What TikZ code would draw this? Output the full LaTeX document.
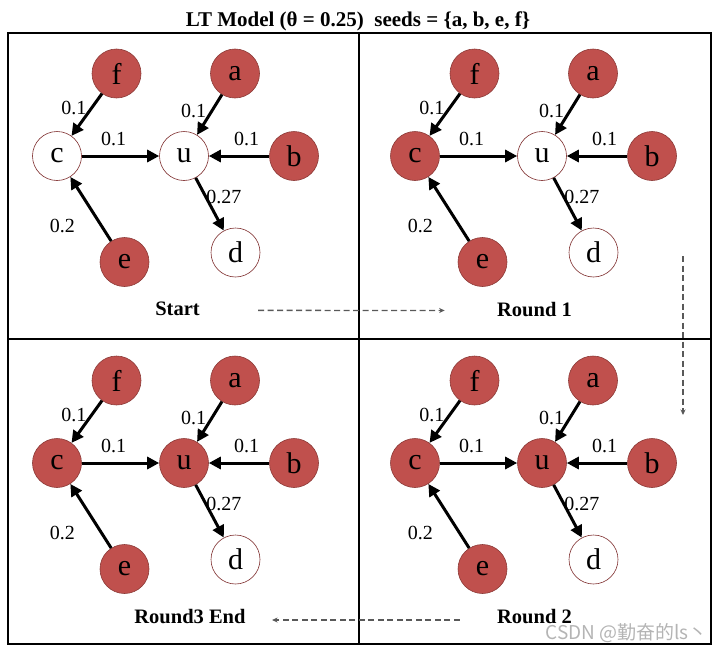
\documentclass[tikz,border=0pt]{standalone}
\usepackage{fontspec}
\setmainfont{Liberation Serif}
\newfontfamily\cjkfont{Noto Sans CJK SC}
\usetikzlibrary{arrows.meta}
\definecolor{seedred}{HTML}{C0504D}
\definecolor{seedborder}{HTML}{8C3A37}
\definecolor{idleborder}{HTML}{7F2F2F}
\definecolor{flowgray}{HTML}{595959}
\definecolor{markgray}{HTML}{B4B4B4}

% one LT graph: #1 = name prefix, #2 = style of c, #3 = style of u
\newcommand{\ltgraph}[3]{
  \node[seednode] (#1f) at (116.5,73.5) {f};
  \node[seednode] (#1a) at (235,73.5) {a};
  \node[#2] (#1c) at (57,156) {c};
  \node[#3] (#1u) at (184,156) {u};
  \node[seednode] (#1b) at (294,156) {b};
  \node[seednode] (#1e) at (124.5,262) {e};
  \node[plainnode] (#1d) at (235.5,252.5) {d};
  \draw[infl] (#1f) -- (#1c) node[wlabel, midway, xshift=-13pt, yshift=6.5pt] {0.1};
  \draw[infl] (#1c) -- (#1u) node[wlabel, midway, xshift=-7pt, yshift=17pt] {0.1};
  \draw[infl] (#1a) -- (#1u) node[wlabel, midway, xshift=-16pt, yshift=3.5pt] {0.1};
  \draw[infl] (#1b) -- (#1u) node[wlabel, midway, xshift=7.5pt, yshift=17pt] {0.1};
  \draw[infl] (#1u) -- (#1d) node[wlabel, midway, xshift=14pt, yshift=7pt] {0.27};
  \draw[infl] (#1e) -- (#1c) node[wlabel, midway, xshift=-28.5pt, yshift=-16.5pt] {0.2};
}

\begin{document}
\begin{tikzpicture}[
  x=1pt, y=-1pt,
  seednode/.style={
    circle,
    fill=seedred,
    draw=seedborder,
    line width=0.6pt,
    minimum size=49pt,
    inner sep=0pt,
    font=\fontsize{30}{30}\selectfont
  },
  plainnode/.style={
    seednode,
    fill=white,
    draw=idleborder
  },
  infl/.style={
    -{Triangle[length=12pt,width=12pt]},
    line width=3pt,
    draw=black
  },
  wlabel/.style={
    font=\fontsize{20}{20}\selectfont,
    inner sep=0pt
  },
  caption/.style={
    font=\bfseries\fontsize{20.5}{20.5}\selectfont,
    anchor=base
  },
  roundflow/.style={
    -{Stealth[length=5.5pt,width=5pt]},
    line width=1.3pt,
    draw=flowgray,
    dash pattern=on 6pt off 3.5pt
  }
]
  \useasboundingbox (0,0) rectangle (720,653);

  % Title
  \node[font=\bfseries\fontsize{21}{21}\selectfont, anchor=base] (title) at (358,27)
    {LT Model (θ = 0.25)\ \ seeds = \{a, b, e, f\}};

  % Frame and the four panels
  \draw[line width=1.2pt] (8,33) rectangle (711,644);
  \draw[line width=1.2pt] (359,33) -- (359,644);
  \draw[line width=1.2pt] (8,339) -- (711,339);

  % --- Start ---
  \ltgraph{s}{plainnode}{plainnode}
  \node[caption] (start) at (177.5,315.5) {Start};

  % --- Round 1 ---
  \begin{scope}[shift={(358,0)}]
    \ltgraph{ra}{seednode}{plainnode}
  \end{scope}
  \node[caption] (round1) at (534.5,316) {Round 1};

  % --- Round 2 ---
  \begin{scope}[shift={(358,307)}]
    \ltgraph{rb}{seednode}{seednode}
  \end{scope}
  \node[caption] (round2) at (534.5,623) {Round 2};

  % --- Round 3 End ---
  \begin{scope}[shift={(0,307)}]
    \ltgraph{rc}{seednode}{seednode}
  \end{scope}
  \node[caption] (round3) at (190,623) {Round3 End};

  % Order of the rounds
  \coordinate (down1) at (683,256);
  \coordinate (down2) at (683,415);
  \draw[roundflow, shorten <=55pt, shorten >=49pt]
    ([yshift=-1.5pt]start.east) -- ([yshift=-1.5pt]round1.west);
  \draw[roundflow] (down1) -- (down2);
  \draw[roundflow, shorten <=34pt, shorten >=23pt]
    ([yshift=-4pt]round2.west) -- ([yshift=-4pt]round3.east);

  % Watermark
  \node[font=\cjkfont\fontsize{19}{19}\selectfont, text=markgray, anchor=east, inner sep=0pt] (wm) at (708,633)
    {CSDN @勤奋的ls丶};
\end{tikzpicture}
\end{document}
